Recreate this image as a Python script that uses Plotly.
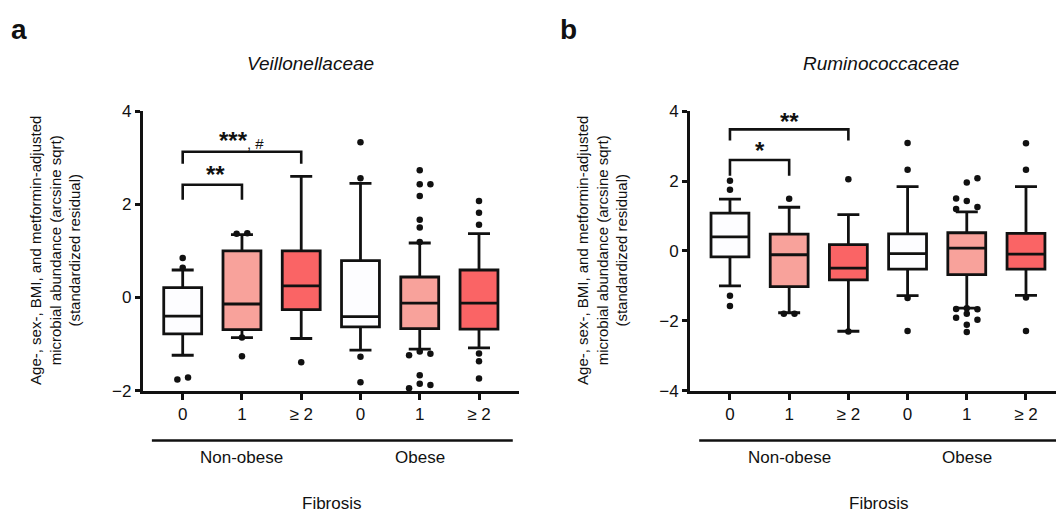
import plotly.graph_objects as go

# ---------------- data ----------------
categories = ["0", "1", "≥ 2", "0", "1", "≥ 2"]
group_names = ["Non-obese", "Obese"]
group_centers = [1, 4]
fill_colors = ["#FDFDFF", "#F8A29B", "#FA6465", "#FDFDFF", "#F8A29B", "#FA6465"]

# Panel a: Veillonellaceae
a_q1 = [-0.78, -0.69, -0.26, -0.63, -0.67, -0.68]
a_med = [-0.40, -0.14, 0.25, -0.41, -0.12, -0.12]
a_q3 = [0.21, 1.00, 1.00, 0.79, 0.44, 0.59]
a_lo = [-1.24, -0.86, -0.88, -1.13, -1.11, -1.08]
a_hi = [0.59, 1.35, 2.60, 2.45, 1.17, 1.37]
# (category index, value, side-by-side slot)
a_out = [
    (0, 0.85, 0), (0, 0.64, 0), (0, -1.76, -1), (0, -1.72, 1),
    (1, 1.37, -1), (1, 1.38, 1), (1, -0.86, 0), (1, -1.26, 0),
    (2, -1.39, 0),
    (3, 3.33, 0), (3, 2.56, 0), (3, -1.27, 0), (3, -1.82, 0),
    (4, 2.73, 0), (4, 2.43, 0), (4, 2.43, 2), (4, 2.18, 0), (4, 1.67, 0),
    (4, 1.50, 0), (4, 1.19, 0), (4, -1.24, -2), (4, -1.16, 0), (4, -1.21, 2),
    (4, -1.67, 0), (4, -1.85, 0), (4, -1.88, 2), (4, -1.95, -2),
    (5, 2.07, 0), (5, 1.82, 0), (5, 1.56, 0), (5, -1.20, 0), (5, -1.37, 0), (5, -1.74, 0),
]
# significance brackets: (from cat, to cat, bar height, leg end)
a_brackets = [(0, 1, 2.42, 2.10), (0, 2, 3.13, 2.87)]
a_sig = [(0.55, 2.63, "<b>**</b>"), (1.0, 3.37, "<b>***</b><span style='font-size:15px'>, #</span>")]

# Panel b: Ruminococcaceae
b_q1 = [-0.17, -1.02, -0.83, -0.52, -0.68, -0.52]
b_med = [0.40, -0.11, -0.49, -0.08, 0.08, -0.09]
b_q3 = [1.08, 0.48, 0.18, 0.49, 0.52, 0.50]
b_lo = [-1.00, -1.77, -2.30, -1.28, -1.64, -1.27]
b_hi = [1.48, 1.25, 1.04, 1.84, 1.12, 1.84]
b_out = [
    (0, 2.01, 0), (0, 1.75, 0), (0, -1.28, 0), (0, -1.58, 0),
    (1, 1.49, 0), (1, -1.80, -1), (1, -1.80, 1),
    (2, 2.05, 0), (2, -2.31, 0),
    (3, 3.09, 0), (3, 2.32, 0), (3, -1.35, 0), (3, -2.29, 0),
    (4, 1.96, 0), (4, 2.08, 2), (4, 1.50, -2), (4, 1.43, 0), (4, 1.26, 2), (4, 1.20, -2),
    (4, -1.66, -2), (4, -1.64, 0), (4, -1.67, 2), (4, -1.91, -2), (4, -1.80, 0),
    (4, -1.97, 2), (4, -2.11, 0), (4, -2.32, 0),
    (5, 3.08, 0), (5, 2.32, 0), (5, -1.33, 0), (5, -2.29, 0),
]
b_brackets = [(0, 1, 2.60, 2.15), (0, 2, 3.48, 3.16)]
b_sig = [(0.5, 2.86, "<b>*</b>"), (1.0, 3.70, "<b>**</b>")]

titles = ["Veillonellaceae", "Ruminococcaceae"]
panel_letters = ["a", "b"]
ylabel = "Age-, sex-, BMI, and metformin-adjusted<br>microbial abundance (arcsine sqrt)<br>(standardized residual)"
xlabel = "Fibrosis"

# ---------------- figure ----------------
W, H = 1056, 525
FONT = "Liberation Sans, Arial, Helvetica, sans-serif"
SLOT = 0.09
fig = go.Figure()

panels = [
    dict(q1=a_q1, med=a_med, q3=a_q3, lo=a_lo, hi=a_hi, out=a_out, br=a_brackets, sig=a_sig,
         xa="x", ya="y", xdom=[142.7 / W, 519 / W], xr=[-0.675, 5.675], yr=[-2, 4], dt=2),
    dict(q1=b_q1, med=b_med, q3=b_q3, lo=b_lo, hi=b_hi, out=b_out, br=b_brackets, sig=b_sig,
         xa="x2", ya="y2", xdom=[690 / W, 1.0], xr=[-0.675, 5.507], yr=[-4, 4], dt=2),
]

ydom = [(H - 396) / H, (H - 106) / H]
annotations = []
shapes = []
for p_i, p in enumerate(panels):
    for i in range(len(categories)):
        fig.add_trace(go.Box(
            x=[i], q1=[p["q1"][i]], median=[p["med"][i]], q3=[p["q3"][i]],
            lowerfence=[p["lo"][i]], upperfence=[p["hi"][i]],
            width=0.64, whiskerwidth=0.58, boxpoints=False,
            fillcolor=fill_colors[i], line=dict(color="#111111", width=2.8),
            xaxis=p["xa"], yaxis=p["ya"], showlegend=False, hoverinfo="skip"))
    fig.add_trace(go.Scatter(
        x=[c + s * SLOT for c, v, s in p["out"]], y=[v for c, v, s in p["out"]],
        mode="markers", marker=dict(color="#111111", size=6.5),
        xaxis=p["xa"], yaxis=p["ya"], showlegend=False, cliponaxis=False, hoverinfo="skip"))
    for x0, x1, top, leg in p["br"]:
        fig.add_trace(go.Scatter(
            x=[x0, x0, x1, x1], y=[leg, top, top, leg], mode="lines",
            line=dict(color="#111111", width=2.6),
            xaxis=p["xa"], yaxis=p["ya"], showlegend=False, cliponaxis=False, hoverinfo="skip"))
    for sx, sy, txt in p["sig"]:
        annotations.append(dict(x=sx, y=sy, xref=p["xa"], yref=p["ya"], text=txt, showarrow=False,
                                font=dict(size=24, color="#111111", family=FONT),
                                xanchor="center", yanchor="middle"))
    # group line and labels
    shapes.append(dict(type="line", xref=p["xa"], yref="paper", x0=-0.52, x1=5.57 if p_i == 0 else 6.5,
                       y0=(H - 447.7) / H, y1=(H - 447.7) / H, line=dict(color="#111111", width=2.6)))
    for gname, gc in zip(group_names, group_centers):
        annotations.append(dict(x=gc, y=(H - 465) / H, xref=p["xa"], yref="paper", text=gname,
                                showarrow=False, font=dict(size=17, color="#111111", family=FONT),
                                xanchor="center", yanchor="middle"))

    xs = "xaxis" if p_i == 0 else "xaxis2"
    ys = "yaxis" if p_i == 0 else "yaxis2"
    fig.update_layout(**{
        xs: dict(domain=p["xdom"], range=p["xr"], tickvals=list(range(6)), ticktext=categories,
                 showline=True, linewidth=2.8, linecolor="#111111", ticks="outside", ticklen=6,
                 tickwidth=2.6, tickcolor="#111111", showgrid=False, zeroline=False,
                 tickfont=dict(size=17, color="#111111", family=FONT), anchor=p["ya"], fixedrange=True),
        ys: dict(domain=ydom, range=p["yr"], dtick=p["dt"], tick0=0, showline=True, linewidth=2.8,
                 linecolor="#111111", ticks="outside", ticklen=5, tickwidth=2.6, tickcolor="#111111",
                 showgrid=False, zeroline=False, tickfont=dict(size=17, color="#111111", family=FONT),
                 anchor=p["xa"], fixedrange=True),
    })

# titles, letters, axis labels (paper positioned)
title_x = [310 / W, 881 / W]
letter_x = [18.5 / W, 568.5 / W]
ylabel_x = [55 / W, 602 / W]
fib_x = [331.5 / W, 879 / W]
for k in range(2):
    annotations.append(dict(x=title_x[k], y=(H - 57) / H, xref="paper", yref="paper",
                            text="<i>" + titles[k] + "</i>", showarrow=False,
                            font=dict(size=19, color="#111111", family=FONT), xanchor="center", yanchor="middle"))
    annotations.append(dict(x=letter_x[k], y=(H - 21) / H, xref="paper", yref="paper",
                            text="<b>" + panel_letters[k] + "</b>", showarrow=False,
                            font=dict(size=28, color="#111111", family=FONT), xanchor="center", yanchor="middle"))
    annotations.append(dict(x=ylabel_x[k], y=(H - 251) / H, xref="paper", yref="paper", text=ylabel,
                            textangle=-90, showarrow=False,
                            font=dict(size=15, color="#111111", family=FONT), xanchor="center", yanchor="middle"))
    annotations.append(dict(x=fib_x[k], y=(H - 513) / H, xref="paper", yref="paper", text=xlabel,
                            showarrow=False, font=dict(size=17, color="#111111", family=FONT),
                            xanchor="center", yanchor="middle"))

fig.update_layout(
    width=W, height=H, margin=dict(l=0, r=0, t=0, b=0),
    paper_bgcolor="white", plot_bgcolor="white", boxmode="overlay",
    annotations=annotations, shapes=shapes, showlegend=False,
    font=dict(family=FONT, color="#111111"),
)

fig.write_html("out.html", config={"displayModeBar": False})
